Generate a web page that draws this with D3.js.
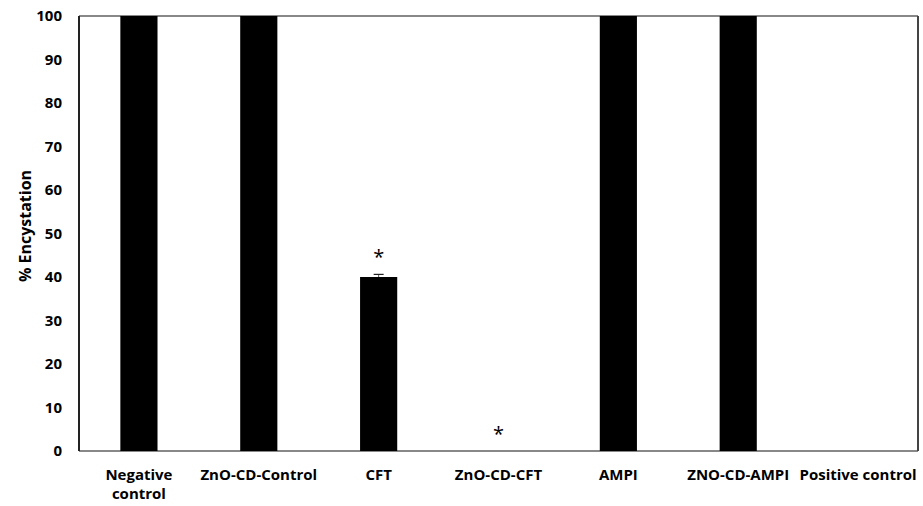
<!DOCTYPE html>
<html>
<head>
<meta charset="utf-8">
<script src="https://cdn.jsdelivr.net/npm/d3@7"></script>
<style>
  body { margin: 0; background: #fff; }
  text { font-family: "Open Sans", "Noto Sans", sans-serif; font-weight: bold; fill: #000; }
</style>
</head>
<body>
<svg id="chart"></svg>
<script>
// data
var categories = ["Negative control", "ZnO-CD-Control", "CFT", "ZnO-CD-CFT", "AMPI", "ZNO-CD-AMPI", "Positive control"];
var values = [100, 100, 40, 0, 100, 100, 0];
var errors = [0, 0, 0.6, 0, 0, 0, 0];
var significant = [false, false, true, true, false, false, false];
var yTicks = [0, 10, 20, 30, 40, 50, 60, 70, 80, 90, 100];

// layout
var svgWidth = 923, svgHeight = 506,
    margin = {top: 16, right: 5, bottom: 55, left: 79},
    width = svgWidth - margin.left - margin.right,
    height = svgHeight - margin.top - margin.bottom;

var svg = d3.select("#chart").attr("width", svgWidth).attr("height", svgHeight);
var g = svg.append("g").attr("transform", "translate(" + [margin.left, margin.top] + ")");

var x = d3.scaleBand().domain(categories).range([0, width]).paddingInner(0.69).paddingOuter(0.345);
var y = d3.scaleLinear().domain([0, 100]).range([height, 0]);

// frame
g.append("line").attr("x1", 0).attr("x2", width).attr("y1", 0).attr("y2", 0)
  .attr("stroke", "#888").attr("stroke-width", 2);
g.append("line").attr("x1", 0).attr("x2", width).attr("y1", height).attr("y2", height)
  .attr("stroke", "#888").attr("stroke-width", 2);
g.append("line").attr("x1", width).attr("x2", width).attr("y1", 0).attr("y2", height)
  .attr("stroke", "#444").attr("stroke-width", 2);
g.append("line").attr("x1", 0).attr("x2", 0).attr("y1", 0).attr("y2", height)
  .attr("stroke", "#222").attr("stroke-width", 2);

// bars
g.selectAll(".bar").data(categories).enter().append("rect")
  .attr("x", function(d) { return x(d); })
  .attr("y", function(d, i) { return y(values[i]); })
  .attr("width", x.bandwidth())
  .attr("height", function(d, i) { return height - y(values[i]); })
  .attr("fill", "#000");

// error bars
categories.forEach(function(c, i) {
  if (!errors[i]) return;
  var cx = x(c) + x.bandwidth() / 2;
  g.append("line").attr("x1", cx).attr("x2", cx)
    .attr("y1", y(values[i])).attr("y2", y(values[i] + errors[i]))
    .attr("stroke", "#555").attr("stroke-width", 1);
  g.append("line").attr("x1", cx - 5).attr("x2", cx + 5)
    .attr("y1", y(values[i] + errors[i])).attr("y2", y(values[i] + errors[i]))
    .attr("stroke", "#222").attr("stroke-width", 1.2);
});

// significance stars
g.selectAll(".star").data(categories).enter().filter(function(d, i) { return significant[i]; })
  .append("text")
  .attr("x", function(d) { return x(d) + x.bandwidth() / 2; })
  .attr("y", function(d) { var i = categories.indexOf(d); return y(values[i] + errors[i]) - 10; })
  .attr("text-anchor", "middle")
  .style("font-weight", "normal")
  .style("font-size", "20px")
  .text("*");

// y axis labels
g.selectAll(".ytick").data(yTicks).enter().append("text")
  .attr("x", -17)
  .attr("y", function(d) { return y(d); })
  .attr("dy", "0.35em")
  .attr("text-anchor", "end")
  .style("font-size", "15px")
  .text(function(d) { return d; });

// x labels
var xl = g.selectAll(".xlab").data(categories).enter().append("text")
  .attr("x", function(d) { return x(d) + x.bandwidth() / 2; })
  .attr("y", height + 29)
  .attr("text-anchor", "middle")
  .style("font-size", "15px");
xl.each(function(d) {
  var t = d3.select(this);
  var lines = d === "Negative control" ? ["Negative", "control"] : [d];
  lines.forEach(function(l, k) {
    t.append("tspan").attr("x", x(d) + x.bandwidth() / 2).attr("dy", k ? "1.25em" : 0).text(l);
  });
});

// y title
svg.append("text")
  .attr("transform", "translate(" + [31, 226] + ") rotate(-90)")
  .attr("text-anchor", "middle")
  .style("font-size", "16px")
  .text("% Encystation");
</script>
</body>
</html>
